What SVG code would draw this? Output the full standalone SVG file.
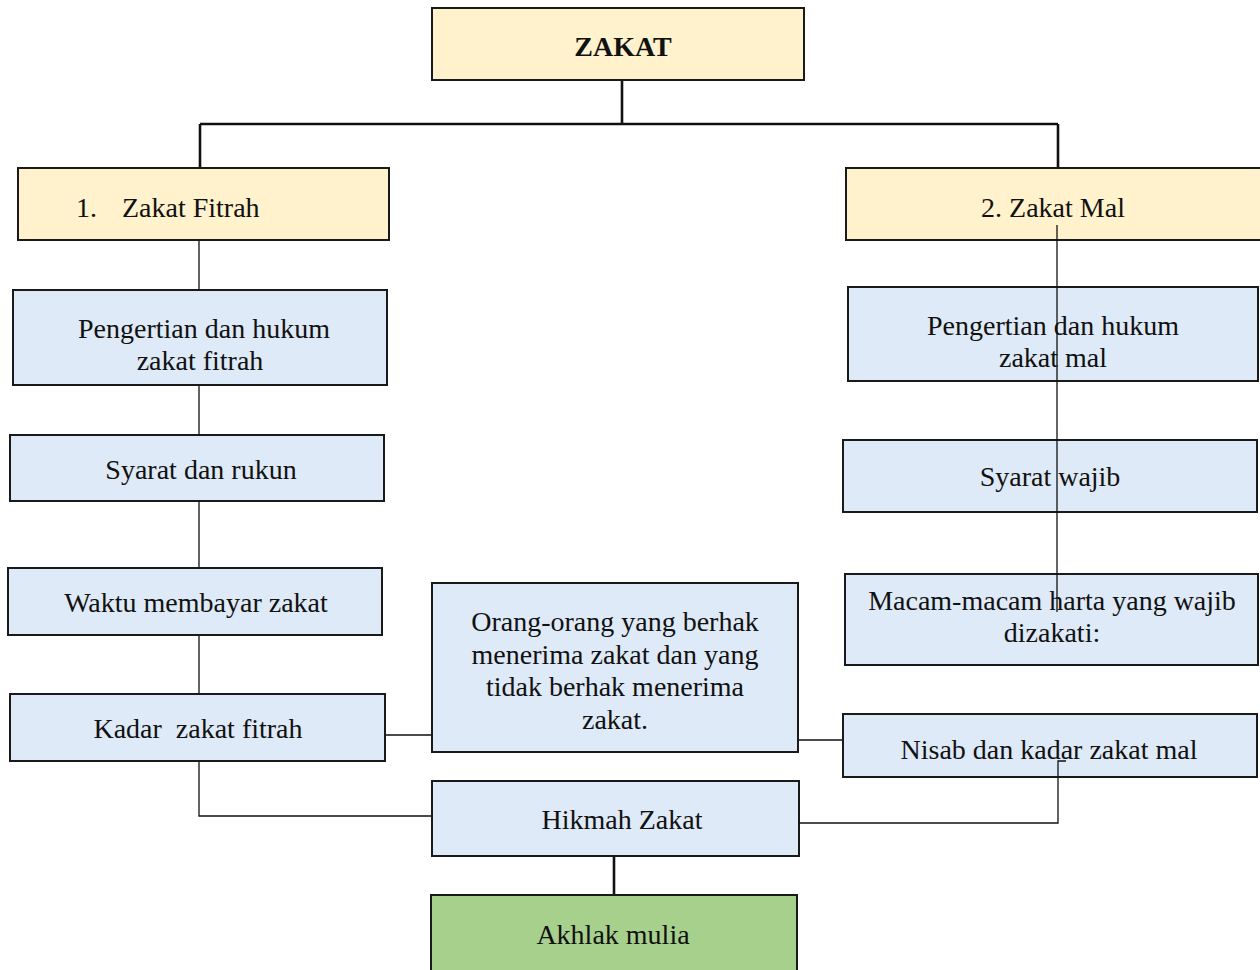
<svg xmlns="http://www.w3.org/2000/svg" width="1260" height="970" viewBox="0 0 1260 970">
<style>
text{font-family:"Liberation Serif","Times New Roman",serif;font-size:28px;fill:#111;text-anchor:middle}
text.s{text-anchor:start}
.y{fill:#fff2cc;stroke:#1a1a1a;stroke-width:2}
.b{fill:#deeaf7;stroke:#1a1a1a;stroke-width:2}
.g{fill:#a8d08d;stroke:#1a1a1a;stroke-width:2}
.c{fill:none;stroke:#111;stroke-width:1.3}
.t{fill:none;stroke:#111;stroke-width:2.6}
</style>
<rect width="1260" height="970" fill="#fff"/>
<g id="connectors-back">
<path class="t" d="M622,80V124M200,124H1058M200,124V168M1058,124V168"/>
<path class="c" d="M199,240V290M199,385V435M199,501V568M199,635V694M199,761V816H432"/>
<path class="c" d="M385,735H432M798,740H843"/>
<path class="t" d="M614,856V895"/>
</g>
<g id="zakat"><rect class="y" x="432" y="8" width="372" height="72"/><text x="623" y="56" font-weight="bold">ZAKAT</text></g>
<g id="zakat-fitrah"><rect class="y" x="18" y="168" width="371" height="72"/><text class="s" x="76" y="217">1.</text><text class="s" x="122" y="217">Zakat Fitrah</text></g>
<g id="zakat-mal"><rect class="y" x="846" y="168" width="416" height="72"/><text x="1053" y="217">2. Zakat Mal</text></g>
<g id="pengertian-fitrah"><rect class="b" x="13" y="290" width="374" height="95"/><text x="204" y="338">Pengertian dan hukum</text><text x="200" y="370">zakat fitrah</text></g>
<g id="syarat-rukun"><rect class="b" x="10" y="435" width="374" height="66"/><text x="201" y="479">Syarat dan rukun</text></g>
<g id="waktu"><rect class="b" x="8" y="568" width="374" height="67"/><text x="196" y="612">Waktu membayar zakat</text></g>
<g id="kadar-fitrah"><rect class="b" x="10" y="694" width="375" height="67"/><text x="198" y="738" xml:space="preserve">Kadar  zakat fitrah</text></g>
<g id="orang"><rect class="b" x="432" y="583" width="366" height="169"/><text x="615" y="631">Orang-orang yang berhak</text><text x="615" y="664">menerima zakat dan yang</text><text x="615" y="696">tidak berhak menerima</text><text x="615" y="729">zakat.</text></g>
<g id="pengertian-mal"><rect class="b" x="848" y="287" width="410" height="94"/><text x="1053" y="335">Pengertian dan hukum</text><text x="1053" y="367">zakat mal</text></g>
<g id="syarat-wajib"><rect class="b" x="843" y="440" width="414" height="72"/><text x="1050" y="486">Syarat wajib</text></g>
<g id="macam"><rect class="b" x="845" y="574" width="413" height="91"/><text x="1052" y="610">Macam-macam harta yang wajib</text><text x="1052" y="642">dizakati:</text></g>
<g id="nisab"><rect class="b" x="843" y="714" width="414" height="63"/><text x="1049" y="759">Nisab dan kadar zakat mal</text></g>
<g id="hikmah"><rect class="b" x="432" y="781" width="367" height="75"/><text x="622" y="829">Hikmah Zakat</text></g>
<g id="akhlak"><rect class="g" x="431" y="895" width="366" height="80"/><text x="613" y="944">Akhlak mulia</text></g>
<g id="connectors">
<path class="c" d="M1057,225V612"/>
<path class="c" d="M1066,761H1058V823H799"/>
</g>
</svg>
